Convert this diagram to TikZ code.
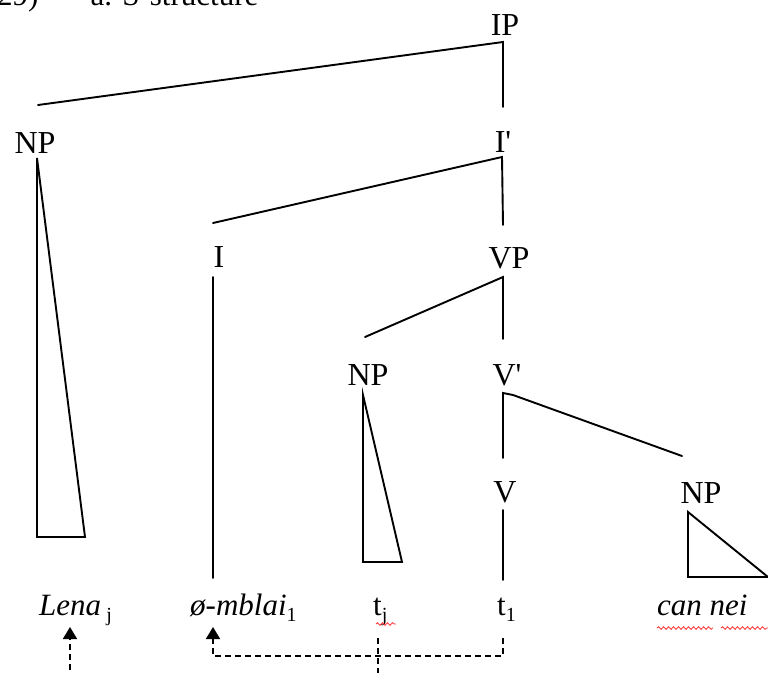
\documentclass[tikz,border=0pt]{standalone}
\usepackage{fontspec}
\setmainfont{Liberation Serif}
\usetikzlibrary{arrows.meta,decorations.pathmorphing}
\newcommand{\sbs}[1]{\raisebox{-0.22em}{\upshape\fontsize{20}{22}\selectfont #1}}
\newcommand{\prm}{\textquotesingle}
\begin{document}
\begin{tikzpicture}[x=1pt,y=-1pt,
  lbl/.style={inner sep=0pt,anchor=base,font=\fontsize{32}{36}\selectfont},
  lbll/.style={inner sep=0pt,anchor=base west,font=\fontsize{31}{36}\selectfont},
  br/.style={line width=1.9pt,line cap=round},
  tri/.style={line width=1.9pt,line join=miter},
  mv/.style={line width=1.7pt,dash pattern=on 6pt off 4pt,-{Triangle[length=12pt,width=14pt]}},
  spell/.style={red!75,line width=0.9pt,decorate,decoration={snake,segment length=5pt,amplitude=1.3pt}}]
\useasboundingbox (0,0) rectangle (768,672);
\clip (0,0) rectangle (768,672);
% header (cut off at top in the reference)
\node[lbll] (hd) at (-3,5) {29)\hspace{52pt}a. S-structure};
% labels
\node[lbl] (IP) at (505,35) {IP};
\node[lbl] (NPa) at (35,153) {NP};
\node[lbl] (Ib) at (503,152) {I\prm};
\node[lbl] (I) at (219,267) {I};
\node[lbl] (VP) at (509,268) {VP};
\node[lbl] (NPb) at (368,385) {NP};
\node[lbl] (Vb) at (507,385) {V\prm};
\node[lbl] (V) at (505,502) {V};
\node[lbl] (NPc) at (701,503) {NP};
% terminals
\node[lbll] (lena) at (39,615) {\itshape Lena\,\sbs{j}};
\node[lbll] (mblai) at (190,615) {\itshape ø-mblai\sbs{1}};
\node[lbll] (tj) at (373,615) {t\sbs{j}};
\node[lbll] (t1) at (497,615) {t\sbs{1}};
\node[lbll] (can) at (657,615) {\itshape can nei};
% branch points
\coordinate (ipb) at (503,42);
\coordinate (npa-t) at (38,105);
\coordinate (ib-t) at (503,107);
\coordinate (ibb) at (502,157);
\coordinate (i-t) at (213,223);
\coordinate (vp-t) at (503,225);
\coordinate (i-b) at (213,277);
\coordinate (i-e) at (213,578);
\coordinate (vpb) at (503,277);
\coordinate (npb-t) at (365,337);
\coordinate (vb-t) at (503,339);
\coordinate (vbb) at (503,393);
\coordinate (vbk) at (513,395);
\coordinate (npc-t) at (682,456);
\coordinate (v-t) at (503,458);
\coordinate (vb2) at (503,510);
\coordinate (v-e) at (503,580);
\draw[br] (npa-t) -- (ipb) -- (ib-t);
\draw[br] (i-t) -- (ibb) -- (vp-t);
\draw[br] (i-b) -- (i-e);
\draw[br] (npb-t) -- (vpb) -- (vb-t);
\draw[br] (v-t) -- (vbb) -- (vbk) -- (npc-t);
\draw[br] (vb2) -- (v-e);
% triangles
\draw[tri] (37,158) -- (37,537) -- (85,537) -- cycle;
\draw[tri] (363,395) -- (363,562) -- (402,562) -- cycle;
\draw[tri] (688,512) -- (688,577) -- (768,577) -- cycle;
% movement arrows
\coordinate (t1d) at (503,638);
\coordinate (tjd) at (378,638);
\coordinate (mbu) at (213,627);
\coordinate (leu) at (70,627);
\draw[mv] (t1d) -- (503,656) -- (213,656) -- (mbu);
\draw[mv] (tjd) -- (378,700) -- (70,700) -- (leu);
% spell-check squiggles
\draw[spell] (376,624) -- (396,624);
\draw[spell] (657,628) -- (713,628);
\draw[spell] (721,628) -- (768,628);
\end{tikzpicture}
\end{document}
